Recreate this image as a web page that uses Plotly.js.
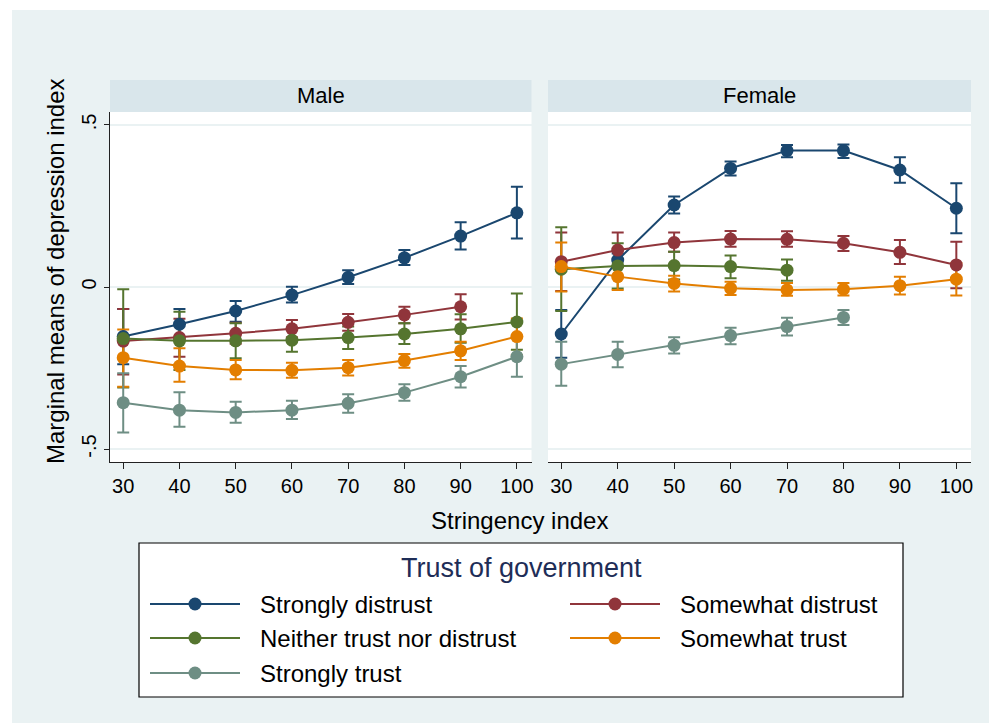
<!DOCTYPE html>
<html>
<head>
<meta charset="utf-8">
<script src="https://cdn.plot.ly/plotly-3.0.1.min.js"></script>
<style>
  html, body { margin: 0; padding: 0; background: #ffffff; }
  #chart { position: absolute; left: 12px; top: 10px; width: 977px; height: 713px; }
</style>
</head>
<body>
<div id="chart"></div>
<script>
// ---- Data ----
const stringency = [30, 40, 50, 60, 70, 80, 90, 100];
const panelNames = ["Male", "Female"];
const seriesNames = ["Strongly distrust", "Somewhat distrust", "Neither trust nor distrust", "Somewhat trust", "Strongly trust"];
const seriesColors = ["#1a476f", "#90353b", "#55752f", "#e37e00", "#6e8e84"];

// Male: mean, lower CI, upper CI (series order as seriesNames)
const maleMean = [
  [-0.153, -0.115, -0.074, -0.025, 0.030, 0.090, 0.157, 0.229],
  [-0.167, -0.156, -0.143, -0.129, -0.109, -0.086, -0.061, null],
  [-0.159, -0.166, -0.166, -0.164, -0.156, -0.145, -0.129, -0.108],
  [-0.218, -0.244, -0.256, -0.257, -0.249, -0.227, -0.197, -0.153],
  [-0.357, -0.380, -0.387, -0.380, -0.359, -0.326, -0.277, -0.215]
];
const maleLow = [
  [-0.238, -0.161, -0.107, -0.048, 0.009, 0.068, 0.116, 0.150],
  [-0.270, -0.215, -0.175, -0.155, -0.135, -0.112, -0.100, null],
  [-0.310, -0.256, -0.220, -0.200, -0.191, -0.176, -0.172, -0.194],
  [-0.308, -0.292, -0.285, -0.280, -0.273, -0.249, -0.225, -0.210],
  [-0.449, -0.431, -0.419, -0.407, -0.388, -0.351, -0.310, -0.277]
];
const maleHigh = [
  [-0.068, -0.068, -0.043, 0.001, 0.052, 0.114, 0.200, 0.309],
  [-0.068, -0.098, -0.110, -0.102, -0.083, -0.061, -0.022, null],
  [-0.007, -0.076, -0.112, -0.131, -0.122, -0.112, -0.084, -0.020],
  [-0.131, -0.189, -0.225, -0.234, -0.225, -0.207, -0.169, -0.097],
  [-0.266, -0.325, -0.354, -0.351, -0.331, -0.300, -0.244, -0.150]
];

// Female
const femaleMean = [
  [-0.145, 0.083, 0.253, 0.366, 0.421, 0.421, 0.361, 0.243],
  [0.078, 0.114, 0.137, 0.148, 0.147, 0.135, 0.107, 0.068],
  [0.055, 0.065, 0.066, 0.063, 0.052, null, null, null],
  [0.063, 0.032, 0.011, -0.004, -0.009, -0.007, 0.004, 0.024],
  [-0.238, -0.208, -0.180, -0.150, -0.122, -0.094, null, null]
];
const femaleLow = [
  [-0.218, 0.063, 0.227, 0.344, 0.400, 0.398, 0.322, 0.166],
  [-0.012, 0.063, 0.109, 0.124, 0.124, 0.111, 0.071, -0.004],
  [-0.074, -0.005, 0.023, 0.027, 0.019, null, null, null],
  [-0.014, -0.009, -0.014, -0.025, -0.027, -0.026, -0.023, -0.026],
  [-0.305, -0.248, -0.205, -0.177, -0.150, -0.117, null, null]
];
const femaleHigh = [
  [-0.071, 0.103, 0.279, 0.387, 0.438, 0.440, 0.400, 0.320],
  [0.168, 0.168, 0.168, 0.173, 0.172, 0.157, 0.145, 0.140],
  [0.184, 0.135, 0.109, 0.097, 0.085, null, null, null],
  [0.137, 0.063, 0.035, 0.016, 0.012, 0.012, 0.032, 0.074],
  [-0.169, -0.169, -0.155, -0.126, -0.095, -0.071, null, null]
];

const yTickVals = [-0.5, 0, 0.5];
const yTickText = ["-.5", "0", ".5"];
const xTitle = "Stringency index";
const yTitle = "Marginal means of depression index";
const legendTitle = "Trust of government";

// ---- Layout helpers (image pixel -> paper) ----
const W = 977, H = 713, OX = 12, OY = 10;
const px = v => (v - OX) / W;
const py = v => 1 - (v - OY) / H;
const FONT = "Liberation Sans, Arial, Helvetica, sans-serif";

const panels = [
  {mean: maleMean, low: maleLow, high: maleHigh, xa: "x", ya: "y"},
  {mean: femaleMean, low: femaleLow, high: femaleHigh, xa: "x2", ya: "y2"}
];

const traces = [];
// CI caps first (drawn beneath lines, as in Stata)
panels.forEach(p => {
  p.mean.forEach((m, s) => {
    traces.push({
      type: "scatter", mode: "markers", x: stringency, y: m,
      xaxis: p.xa, yaxis: p.ya, showlegend: false, hoverinfo: "skip",
      marker: {size: 1, opacity: 0, color: seriesColors[s]},
      error_y: {
        type: "data", symmetric: false,
        array: m.map((v, i) => v === null ? null : p.high[s][i] - v),
        arrayminus: m.map((v, i) => v === null ? null : v - p.low[s][i]),
        color: seriesColors[s], thickness: 2, width: 6
      }
    });
  });
});
// Connected lines with markers
panels.forEach(p => {
  p.mean.forEach((m, s) => {
    traces.push({
      type: "scatter", mode: "lines+markers", x: stringency, y: m,
      xaxis: p.xa, yaxis: p.ya, showlegend: false, name: seriesNames[s],
      connectgaps: false,
      line: {color: seriesColors[s], width: 2},
      marker: {color: seriesColors[s], size: 13}
    });
  });
});

const xAxisBase = {
  range: [27.65, 102.6], tickvals: stringency, ticks: "outside", ticklen: 6,
  tickwidth: 1, tickcolor: "#222", showline: true, linecolor: "#222", linewidth: 1,
  showgrid: false, zeroline: false, tickfont: {size: 20, color: "#000", family: FONT}
};

const shapes = [];
const annotations = [];
// Strip headers
const strips = [[110, 531.5], [548, 971]];
strips.forEach((s, i) => {
  shapes.push({type: "rect", xref: "paper", yref: "paper", x0: px(s[0]), x1: px(s[1]),
    y0: py(112), y1: py(80), fillcolor: "#d9e6eb", line: {width: 0}, layer: "below"});
  annotations.push({xref: "paper", yref: "paper", x: px((s[0] + s[1]) / 2), y: py(96),
    text: panelNames[i], showarrow: false, xanchor: "center", yanchor: "middle",
    font: {size: 22, color: "#000", family: FONT}});
});

// Axis titles
annotations.push({xref: "paper", yref: "paper", x: px(519), y: py(521), text: xTitle,
  showarrow: false, xanchor: "center", yanchor: "middle", font: {size: 24, color: "#000", family: FONT}});
annotations.push({xref: "paper", yref: "paper", x: px(55), y: py(271), text: yTitle, textangle: -90,
  showarrow: false, xanchor: "center", yanchor: "middle", font: {size: 24, color: "#000", family: FONT}});

// Legend box (drawn manually to match the Stata legend layout)
shapes.push({type: "rect", xref: "paper", yref: "paper", x0: px(139), x1: px(903),
  y0: py(697), y1: py(543), fillcolor: "#ffffff", line: {color: "#000", width: 1.2}});
annotations.push({xref: "paper", yref: "paper", x: px(521), y: py(568), text: legendTitle,
  showarrow: false, xanchor: "center", yanchor: "middle", font: {size: 27, color: "#1e2d57", family: FONT}});
const rowY = [604, 638, 673];
const colLine = [[150, 240], [570, 660]];
const colText = [258, 678];
seriesNames.forEach((name, s) => {
  const r = Math.floor(s / 2), c = s % 2;
  const yy = py(rowY[r]);
  shapes.push({type: "line", xref: "paper", yref: "paper", x0: px(colLine[c][0]), x1: px(colLine[c][1]),
    y0: yy, y1: yy, line: {color: seriesColors[s], width: 2}});
  shapes.push({type: "circle", xref: "paper", yref: "paper", xsizemode: "pixel", ysizemode: "pixel",
    xanchor: px((colLine[c][0] + colLine[c][1]) / 2), yanchor: yy, x0: -6.5, x1: 6.5, y0: -6.5, y1: 6.5,
    fillcolor: seriesColors[s], line: {width: 0}});
  annotations.push({xref: "paper", yref: "paper", x: px(colText[c]), y: yy, text: name,
    showarrow: false, xanchor: "left", yanchor: "middle", font: {size: 24, color: "#000", family: FONT}});
});

const layout = {
  width: W, height: H,
  margin: {l: 0, r: 0, t: 0, b: 0, autoexpand: false},
  paper_bgcolor: "#eaf2f3", plot_bgcolor: "#ffffff",
  font: {family: FONT, color: "#000"},
  showlegend: false,
  xaxis: Object.assign({}, xAxisBase, {domain: [px(110), px(531.5)], anchor: "y"}),
  xaxis2: Object.assign({}, xAxisBase, {domain: [px(548), px(971)], anchor: "y2"}),
  yaxis: {
    domain: [py(462), py(112)], range: [-0.54, 0.54], anchor: "x",
    tickvals: yTickVals, ticktext: yTickText, tickangle: -90,
    ticks: "outside", ticklen: 5, tickcolor: "#222", showline: true, linecolor: "#222", linewidth: 1,
    showgrid: true, gridcolor: "#eaf2f3", gridwidth: 1.5, zeroline: false,
    tickfont: {size: 20, color: "#000", family: FONT}
  },
  yaxis2: {
    domain: [py(462), py(112)], range: [-0.54, 0.54], anchor: "x2", matches: "y",
    tickvals: yTickVals, showticklabels: false, ticks: "", showline: false,
    showgrid: true, gridcolor: "#eaf2f3", gridwidth: 1.5, zeroline: false
  },
  shapes: shapes,
  annotations: annotations
};

Plotly.newPlot("chart", traces, layout, {staticPlot: true, displayModeBar: false});
</script>
</body>
</html>
